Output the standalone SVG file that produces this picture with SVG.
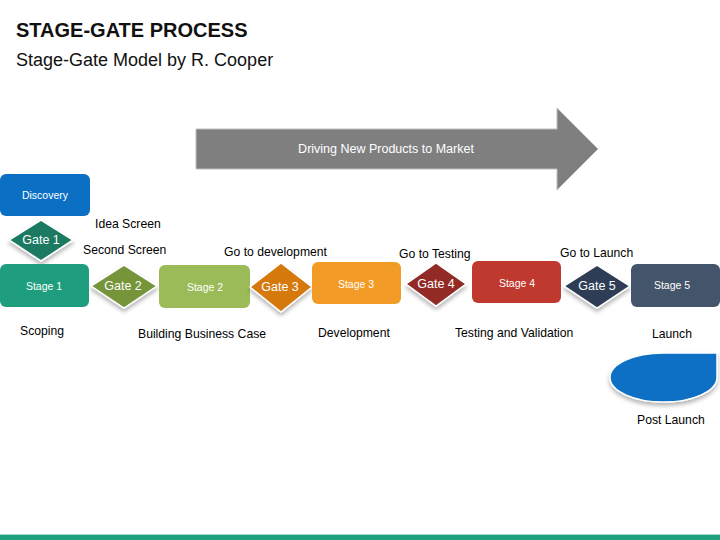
<svg xmlns="http://www.w3.org/2000/svg" width="720" height="540" viewBox="0 0 720 540">
<defs>
<style>
.t{font-family:"Liberation Sans",Arial,sans-serif;fill:#000;font-size:12.2px}
.w{font-family:"Liberation Sans",Arial,sans-serif;fill:#fff;text-anchor:middle;dominant-baseline:central}
.sl{font-size:10.5px}
.gl{font-size:12.5px}
.gate{stroke:#fff;stroke-width:1.5;filter:url(#sh)}
</style>
<filter id="sh" x="-20%" y="-20%" width="140%" height="160%">
<feGaussianBlur in="SourceAlpha" stdDeviation="2"/>
<feOffset dy="3"/>
<feComponentTransfer><feFuncA type="linear" slope="0.3"/></feComponentTransfer>
<feMerge><feMergeNode/><feMergeNode in="SourceGraphic"/></feMerge>
</filter>
</defs>
<rect width="720" height="540" fill="#fff"/>
<text x="16" y="37" font-family="Liberation Sans,Arial,sans-serif" font-weight="bold" font-size="20" fill="#111">STAGE-GATE PROCESS</text>
<text x="16" y="66" font-family="Liberation Sans,Arial,sans-serif" font-size="18" fill="#111">Stage-Gate Model by R. Cooper</text>

<g id="arrow">
<polygon points="196,129 557,129 557,108 598,149 557,190 557,169 196,169" fill="#7f7f7f" stroke="#bfbfbf" stroke-width="1"/>
<text class="w" x="386" y="149" font-size="12.5">Driving New Products to Market</text>
</g>

<g id="discovery"><rect x="0" y="174" width="90" height="42" rx="6" fill="#0b6fc4"/><text class="w sl" x="45" y="195">Discovery</text></g>
<g id="gate1"><polygon class="gate" points="41,220 73,240 41,261 9,240" fill="#1d7a62"/><text class="w gl" x="41" y="240">Gate 1</text></g>
<g id="stage1"><rect x="0" y="264" width="89" height="43" rx="6" fill="#1e9e7e"/><text class="w sl" x="44" y="286">Stage 1</text></g>
<g id="gate2"><polygon class="gate" points="124,265 157,286 124,308 91,286" fill="#76953a"/><text class="w gl" x="123" y="286">Gate 2</text></g>
<g id="stage2"><rect x="159" y="265" width="91" height="43" rx="6" fill="#9bbb59"/><text class="w sl" x="205" y="287">Stage 2</text></g>
<g id="gate3"><polygon class="gate" points="281,263 312,287 281,312 250,287" fill="#d5790f"/><text class="w gl" x="280" y="287">Gate 3</text></g>
<g id="stage3"><rect x="312" y="262" width="89" height="42" rx="6" fill="#f29b26"/><text class="w sl" x="356" y="284">Stage 3</text></g>
<g id="gate4"><polygon class="gate" points="436,263 466,284 436,306 406,284" fill="#922b26"/><text class="w gl" x="436" y="284">Gate 4</text></g>
<g id="stage4"><rect x="472" y="261" width="89" height="42" rx="6" fill="#c0392f"/><text class="w sl" x="517" y="283">Stage 4</text></g>
<g id="gate5"><polygon class="gate" points="597,265 630,286 597,308 564,286" fill="#2e3e54"/><text class="w gl" x="597" y="286">Gate 5</text></g>
<g id="stage5"><rect x="631" y="264" width="89" height="43" rx="6" fill="#44546a"/><text class="w sl" x="672" y="285">Stage 5</text></g>
<g id="postlaunch"><path d="M663.5,353 L717,353 L717,377.5 A53.5,24.5 0 0 1 663.5,402 A53.5,24.5 0 0 1 610,377.5 A53.5,24.5 0 0 1 663.5,353 Z" fill="#0b6fc4" stroke="#fff" stroke-width="1.5" filter="url(#sh)"/></g>

<g id="labels">
<text class="t" x="95" y="228">Idea Screen</text>
<text class="t" x="83" y="254">Second Screen</text>
<text class="t" x="224" y="256">Go to development</text>
<text class="t" x="399" y="258">Go to Testing</text>
<text class="t" x="560" y="257">Go to Launch</text>
<text class="t" x="20" y="335">Scoping</text>
<text class="t" x="138" y="338">Building Business Case</text>
<text class="t" x="318" y="337">Development</text>
<text class="t" x="455" y="337">Testing and Validation</text>
<text class="t" x="652" y="338">Launch</text>
<text class="t" x="637" y="424">Post Launch</text>
</g>
<g id="connectors"></g>
<rect x="0" y="534" width="720" height="1" fill="#a6d8ca"/>
<rect x="0" y="535" width="720" height="5" fill="#1fa07f"/>
</svg>
